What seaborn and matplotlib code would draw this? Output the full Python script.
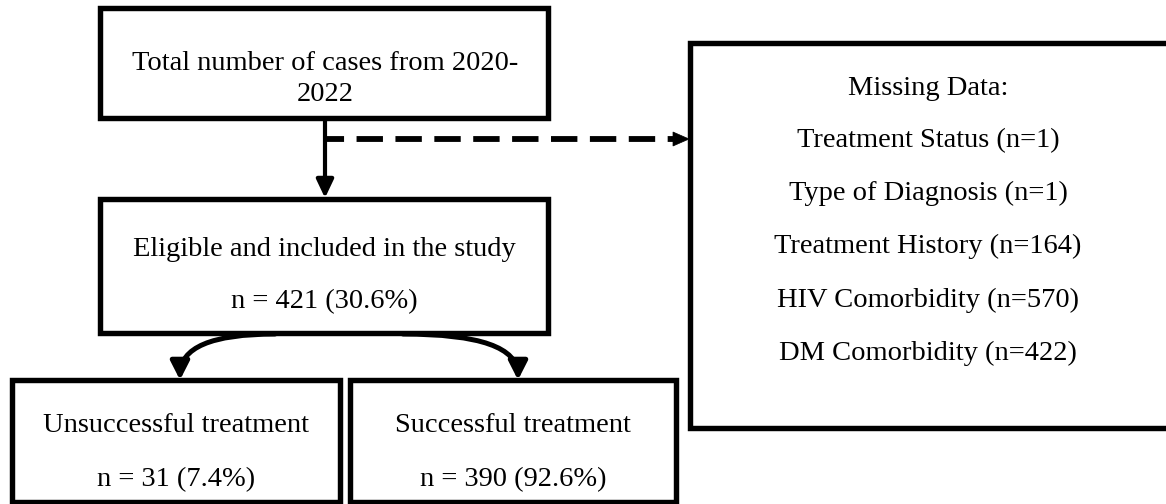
import matplotlib
matplotlib.use("Agg")
import matplotlib.pyplot as plt
from matplotlib.patches import Rectangle, FancyArrowPatch, Polygon
import seaborn as sns

# flowchart content
title_lines = ["Total number of cases from 2020-", "2022"]
eligible_label = "Eligible and included in the study"
eligible_n = 421
eligible_pct = 30.6
outcome_labels = ["Unsuccessful treatment", "Successful treatment"]
outcome_n = [31, 390]
outcome_pct = [7.4, 92.6]
missing_title = "Missing Data:"
missing_items = ["Treatment Status", "Type of Diagnosis", "Treatment History",
                 "HIV Comorbidity", "DM Comorbidity"]
missing_n = [1, 1, 164, 570, 422]

sns.set_theme(style="white")
plt.rcParams["font.family"] = ["Liberation Serif", "DejaVu Serif"]
plt.rcParams["lines.scale_dashes"] = False

fig = plt.figure(figsize=(11.66, 5.04), dpi=100)
ax = fig.add_axes([0, 0, 1, 1])
ax.set_xlim(0, 1166)
ax.set_ylim(504, 0)
ax.axis("off")

FS = 20.5
BOX_LW = 3.9


def box(x0, y0, x1, y1):
    ax.add_patch(Rectangle((x0, y0), x1 - x0, y1 - y0, fill=False,
                           edgecolor="black", linewidth=BOX_LW,
                           joinstyle="miter", clip_on=False))


def label(x, y, s):
    ax.text(x, y, s, ha="center", va="baseline", fontsize=FS, color="black")


# top box
box(100, 8, 548, 118)
label(325, 70, title_lines[0])
label(325, 101, title_lines[1])

# eligible box
box(100, 199, 548, 333)
label(324, 256, eligible_label)
label(324, 308, f"n = {eligible_n} ({eligible_pct}%)")

# outcome boxes
outcome_boxes = [(12, 380, 340, 502), (350, 380, 676, 502)]
for (x0, y0, x1, y1), lab, n, p in zip(outcome_boxes, outcome_labels, outcome_n, outcome_pct):
    box(x0, y0, x1, y1)
    cx = (x0 + x1) / 2
    label(cx, 432, lab)
    label(cx, 486, f"n = {n} ({p}%)")

# missing data box (its right side runs off the picture)
ax.plot([1175, 690, 690, 1175], [43, 43, 428, 428], color="black",
        linewidth=BOX_LW, solid_joinstyle="miter", solid_capstyle="butt",
        clip_on=False)
label(928, 95, missing_title)
for i, (item, n) in enumerate(zip(missing_items, missing_n)):
    label(928, 147 + 53.2 * i, f"{item} (n={n})")

# vertical arrow
ax.add_patch(FancyArrowPatch((325, 118), (325, 198),
                             arrowstyle="-|>,head_length=0.55,head_width=0.26",
                             mutation_scale=20, linewidth=3.0, color="black",
                             shrinkA=0, shrinkB=0))

# dashed arrow to missing data
ax.plot([326, 674], [139, 139], color="black", linewidth=4.2,
        linestyle=(6, (19, 9)), solid_capstyle="butt")
ax.add_patch(Polygon([[673, 132], [689, 139], [673, 146]], closed=True,
                     facecolor="black", edgecolor="black", linewidth=0.5))

# curved arrows to outcomes
ax.add_patch(FancyArrowPatch((275, 334), (180, 380),
                             connectionstyle="angle3,angleA=180,angleB=90",
                             arrowstyle="-|>,head_length=0.55,head_width=0.28",
                             mutation_scale=20, linewidth=3.6, color="black",
                             shrinkA=0, shrinkB=0))
ax.add_patch(FancyArrowPatch((403, 334), (518, 380),
                             connectionstyle="angle3,angleA=0,angleB=90",
                             arrowstyle="-|>,head_length=0.55,head_width=0.28",
                             mutation_scale=20, linewidth=3.6, color="black",
                             shrinkA=0, shrinkB=0))

fig.savefig("out.png", dpi=100, facecolor="white")
